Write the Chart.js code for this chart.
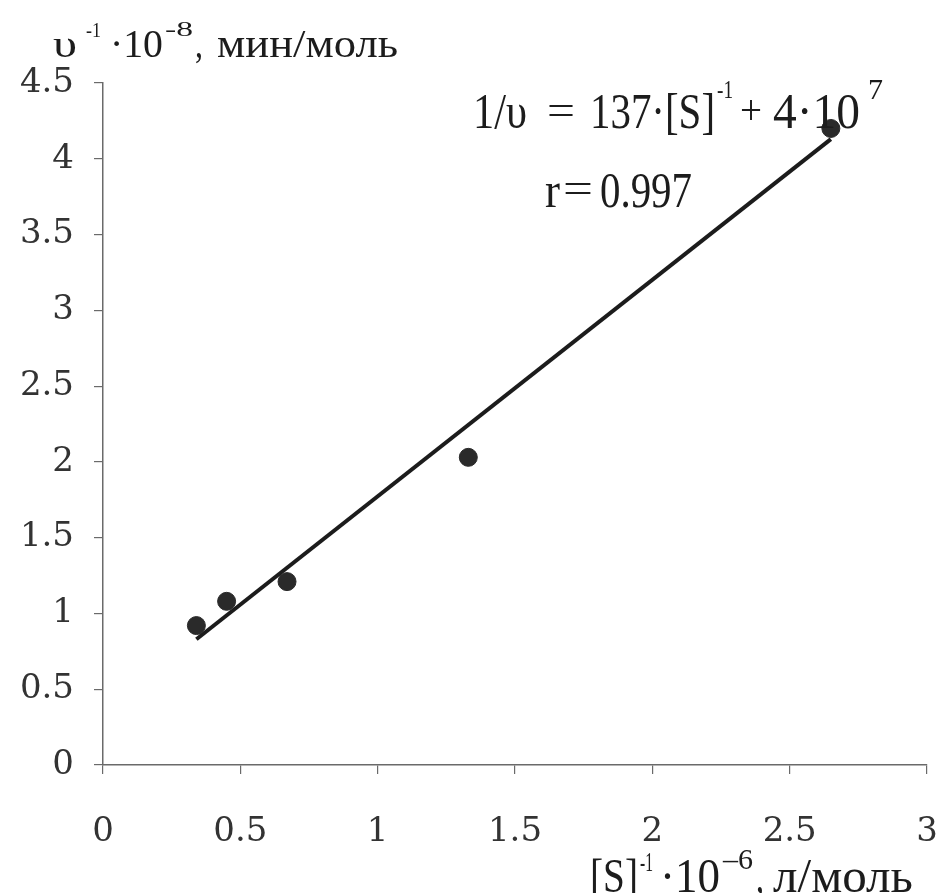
<!DOCTYPE html>
<html>
<head>
<meta charset="utf-8">
<script src="https://cdn.jsdelivr.net/npm/chart.js@4/dist/chart.umd.min.js"></script>
<style>
  body { margin: 0; background: #fff; }
  canvas { display: block; }
</style>
</head>
<body>
<canvas id="plot" width="937" height="893"></canvas>
<script>
// 1/[S] * 10^-6, л/моль  and  1/v * 10^-8, мин/моль
const invS = [0.34, 0.45, 0.67, 1.33, 2.65];
const invV = [0.92, 1.08, 1.21, 2.03, 4.20];

// regression line as drawn on the figure
const fitX = [0.34, 2.65];
const fitY = [0.83, 4.13];

const xTicks = [0, 0.5, 1, 1.5, 2, 2.5, 3];
const yTicks = [0, 0.5, 1, 1.5, 2, 2.5, 3, 3.5, 4, 4.5];

const ink = "#1c1c1c";
const axisInk = "#6a6a6a";

// draw one piece of text squeezed/stretched into [x0, x1]
function put(ctx, text, x0, x1, base, size, sy) {
  ctx.font = size + 'px "Liberation Serif"';
  const w = ctx.measureText(text).width;
  ctx.save();
  ctx.translate(x0, base);
  ctx.scale((x1 - x0) / w, sy);
  ctx.fillText(text, 0, 0);
  ctx.restore();
}

const labelsPlugin = {
  id: "labels",
  afterDraw(chart) {
    const ctx = chart.ctx;
    ctx.save();
    ctx.fillStyle = ink;
    ctx.textAlign = "left";
    ctx.textBaseline = "alphabetic";

    // y axis title
    put(ctx, "υ", 53, 77, 57, 34, 1.1);
    put(ctx, "-1", 86, 101, 37, 20, 1.1);
    put(ctx, "·10", 110, 163, 57, 36, 1.1);
    put(ctx, "-8", 165, 193, 36, 20, 1.1);
    put(ctx, ",", 195, 203, 57, 36, 1.1);
    put(ctx, "мин/моль", 217, 398, 57, 36, 1.1);

    // equation
    put(ctx, "1/υ", 473, 527, 128, 36, 1.4);
    put(ctx, "=", 547, 575, 124, 36, 1.2);
    put(ctx, "137·[S]", 590, 715, 128, 36, 1.4);
    put(ctx, "-1", 717, 733, 98, 20, 1.3);
    put(ctx, "+", 740, 762, 124, 36, 1.2);
    put(ctx, "4·10", 773, 860, 128, 36, 1.4);
    put(ctx, "7", 868, 883, 99, 22, 1.3);

    put(ctx, "r", 545, 560, 207, 36, 1.4);
    put(ctx, "=", 563, 593, 202, 36, 1.2);
    put(ctx, "0.997", 600, 692, 207, 36, 1.4);

    // x axis title
    put(ctx, "[S]", 590, 638, 892, 44, 1.1);
    put(ctx, "-1", 640, 653, 871, 24, 1.1);
    put(ctx, "·10", 660, 720, 892, 44, 1.1);
    put(ctx, "–6", 723, 753, 869, 26, 1.1);
    put(ctx, ",", 756, 764, 892, 44, 1.1);
    put(ctx, "л/моль", 773, 913, 892, 44, 1.1);

    ctx.restore();
  }
};

const tickFont = { family: '"DejaVu Serif"', size: 34 };

new Chart(document.getElementById("plot").getContext("2d"), {
  type: "scatter",
  data: {
    datasets: [
      {
        data: fitX.map((x, i) => ({ x: x, y: fitY[i] })),
        showLine: true,
        borderColor: ink,
        borderWidth: 4,
        pointRadius: 0,
        order: 2,
      },
      {
        data: invS.map((x, i) => ({ x: x, y: invV[i] })),
        backgroundColor: "#2a2a2a",
        borderColor: "#2a2a2a",
        pointRadius: 9,
        order: 1,
      },
    ],
  },
  options: {
    responsive: false,
    animation: false,
    layout: { padding: { top: 83, right: 9, left: 0, bottom: 0 } },
    plugins: {
      legend: { display: false },
      tooltip: { enabled: false },
    },
    scales: {
      x: {
        type: "linear",
        min: 0,
        max: 3,
        afterBuildTicks: (s) => { s.ticks = xTicks.map((v) => ({ value: v })); },
        afterFit: (s) => { s.height = 128; s.paddingLeft = 0; s.paddingRight = 0; },
        ticks: { color: "#333", font: tickFont, padding: 38, maxRotation: 0, autoSkip: false, callback: (v) => String(v) },
        grid: { display: true, drawOnChartArea: false, drawTicks: true, tickLength: 9, color: axisInk, lineWidth: 1.2 },
        border: { color: axisInk, width: 1.5, dash: [10, 3, 2, 3] },
      },
      y: {
        type: "linear",
        min: 0,
        max: 4.5,
        afterBuildTicks: (s) => { s.ticks = yTicks.map((v) => ({ value: v })); },
        afterFit: (s) => { s.width = 103; s.paddingTop = 0; s.paddingBottom = 0; },
        ticks: { color: "#333", font: tickFont, padding: 20, autoSkip: false, callback: (v) => String(v) },
        grid: { display: true, drawOnChartArea: false, drawTicks: true, tickLength: 9, color: axisInk, lineWidth: 1.2 },
        border: { color: axisInk, width: 1.5, dash: [10, 3, 2, 3] },
      },
    },
  },
  plugins: [labelsPlugin],
});
</script>
</body>
</html>
